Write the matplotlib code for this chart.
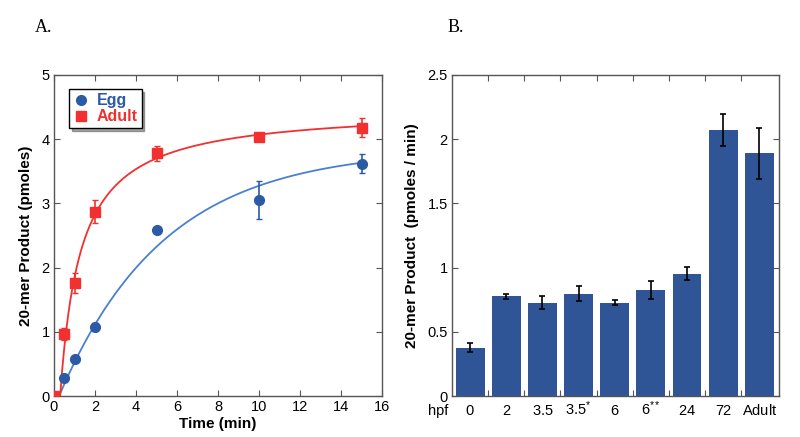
import numpy as np
import matplotlib
matplotlib.use("Agg")
import matplotlib.pyplot as plt
from matplotlib.lines import Line2D
from matplotlib.ticker import MultipleLocator, FixedLocator, NullFormatter

plt.rcParams['font.family'] = ['Liberation Sans', 'DejaVu Sans']
plt.rcParams['mathtext.fontset'] = 'custom'
plt.rcParams['mathtext.rm'] = 'Liberation Sans'
plt.rcParams['mathtext.it'] = 'Liberation Sans'

# ---- Panel A data ----
time_min = [0, 0.5, 1, 2, 5, 10, 15]
egg_vals = [0.0, 0.28, 0.57, 1.07, 2.58, 3.05, 3.62]
egg_err = [0.0, 0.02, 0.04, 0.06, 0.03, 0.30, 0.15]
adult_vals = [0.0, 0.97, 1.76, 2.87, 3.78, 4.04, 4.18]
adult_err = [0.0, 0.09, 0.16, 0.18, 0.12, 0.03, 0.15]

# fit parameters
egg_fit = dict(A=3.85, k=0.195, t0=0.25)        # exponential rise
adult_fit = dict(V=4.49, K=1.0, t0=0.3)          # hyperbolic rise

# ---- Panel B data ----
stages = ['0', '2', '3.5', '3.5^{*}', '6', '6^{**}', '24', '72', 'Adult']
rates = [0.377, 0.777, 0.728, 0.798, 0.728, 0.824, 0.954, 2.071, 1.889]
rate_err = [0.035, 0.02, 0.05, 0.06, 0.02, 0.07, 0.05, 0.125, 0.20]

BLUE = '#2c5aa4'
BLUE_LINE = '#4b7fd2'
RED = '#f2302f'
BAR = '#2f5596'
SPINE = '#555555'

fig = plt.figure(figsize=(8, 4.37), dpi=100)

def style_axes(ax):
    for s in ax.spines.values():
        s.set_color(SPINE)
        s.set_linewidth(1.0)
    ax.tick_params(which='both', direction='in', top=True, right=True,
                   color=SPINE, labelsize=10.5, pad=3)
    ax.tick_params(which='major', length=4)

# Panel A
axA = fig.add_axes([0.0675, 0.0938, 0.41, 0.7346])
tt = np.linspace(0, 15, 300)
egg_curve = np.where(tt > egg_fit['t0'],
                     egg_fit['A'] * (1 - np.exp(-egg_fit['k'] * (tt - egg_fit['t0']))), 0)
ad_t = np.clip(tt - adult_fit['t0'], 0, None)
adult_curve = adult_fit['V'] * ad_t / (adult_fit['K'] + ad_t)
axA.plot(tt, egg_curve, color=BLUE_LINE, lw=1.3, zorder=2)
axA.plot(tt, adult_curve, color=RED, lw=1.3, zorder=2)
axA.errorbar(time_min, egg_vals, yerr=egg_err, fmt='o', color=BLUE, ms=7,
             capsize=2, elinewidth=1.2, zorder=3)
axA.errorbar(time_min, adult_vals, yerr=adult_err, fmt='s', color=RED, ms=7,
             capsize=2, elinewidth=1.2, zorder=3)
axA.set_xlim(0, 16)
axA.set_ylim(0, 5)
axA.xaxis.set_major_locator(MultipleLocator(2))
axA.yaxis.set_major_locator(MultipleLocator(1))
style_axes(axA)
axA.set_xlabel('Time (min)', fontsize=11, fontweight='bold', labelpad=2)
axA.set_ylabel('20-mer Product (pmoles)', fontsize=11, fontweight='bold', labelpad=6)
handles = [Line2D([], [], ls='none', marker='o', color=BLUE, ms=7),
           Line2D([], [], ls='none', marker='s', color=RED, ms=7)]
leg = axA.legend(handles, ['Egg', 'Adult'], loc='upper left',
                 bbox_to_anchor=(0.045, 0.955), frameon=True,
                 fancybox=False, shadow=True, handletextpad=0.5,
                 borderpad=0.25, labelspacing=0.05, handlelength=1.0,
                 borderaxespad=0.0,
                 prop={'weight': 'bold', 'size': 11.5})
leg.get_frame().set_edgecolor('black')
leg.get_frame().set_linewidth(1.0)
for txt, c in zip(leg.get_texts(), [BLUE, RED]):
    txt.set_color(c)

# Panel B
axB = fig.add_axes([0.565, 0.0938, 0.409, 0.7346])
xpos = np.arange(len(stages))
axB.bar(xpos, rates, width=0.8, color=BAR, zorder=2)
axB.errorbar(xpos, rates, yerr=rate_err, fmt='none', ecolor='black',
             capsize=2.5, elinewidth=1.2, capthick=1.2, zorder=3)
axB.set_xlim(-0.5, len(stages) - 0.5 + 0.05)
axB.set_ylim(0, 2.5)
axB.yaxis.set_major_locator(MultipleLocator(0.5))
axB.yaxis.set_major_formatter(plt.FuncFormatter(lambda v, p: f'{v:g}'))
axB.xaxis.set_major_locator(FixedLocator(xpos[:-1] + 0.5))
axB.xaxis.set_major_formatter(NullFormatter())
style_axes(axB)
xtr = axB.get_xaxis_transform()
for x, s in zip(xpos, stages):
    axB.text(x, -0.06, r'$\mathregular{%s}$' % s, transform=xtr,
             ha='center', va='baseline', fontsize=10.5)
axB.text(-0.6, -0.06, 'hpf', transform=xtr,
         ha='right', va='baseline', fontsize=10.5)
axB.set_ylabel('20-mer Product  (pmoles / min)', fontsize=11, fontweight='bold', labelpad=6)

fig.text(35 / 800, 1 - 28 / 437, 'A.', fontsize=13, family='Liberation Serif',
         ha='left', va='center')
fig.text(448 / 800, 1 - 28 / 437, 'B.', fontsize=13, family='Liberation Serif',
         ha='left', va='center')

fig.savefig('out.png', dpi=100)
